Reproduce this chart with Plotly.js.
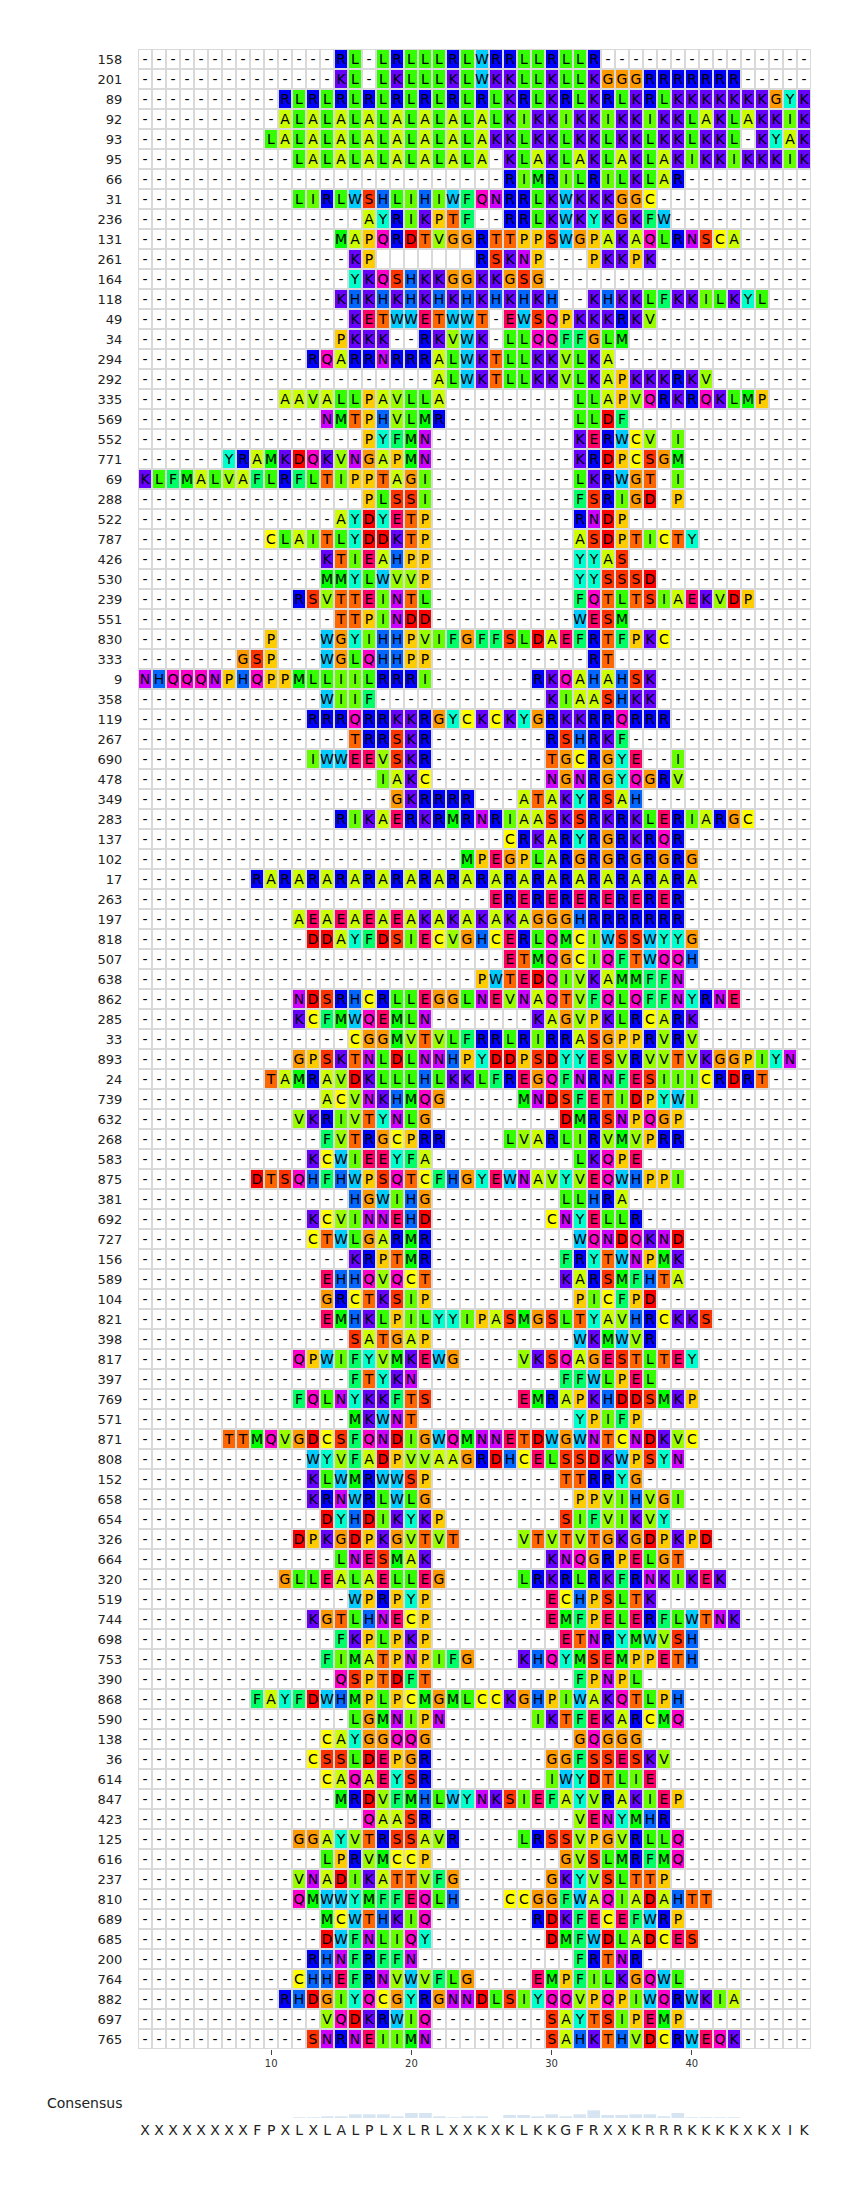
<!DOCTYPE html>
<html>
<head>
<meta charset="utf-8">
<script src="https://cdn.plot.ly/plotly-3.0.1.min.js"></script>
<style>html,body{margin:0;padding:0;background:#fff;}#chart{width:860px;height:2188px;}</style>
</head>
<body>
<div id="chart"></div>
<script>
// ---------------- data ----------------
const rowLabels = ['158','201','89','92','93','95','66','31','236','131',
  '261','164','118','49','34','294','292','335','569','552',
  '771','69','288','522','787','426','530','239','551','830',
  '333','9','358','119','267','690','478','349','283','137',
  '102','17','263','197','818','507','638','862','285','33',
  '893','24','739','632','268','583','875','381','692','727',
  '156','589','104','821','398','817','397','769','571','871',
  '808','152','658','654','326','664','320','519','744','698',
  '753','390','868','590','138','36','614','847','423','125',
  '616','237','810','689','685','200','764','882','697','765'];

const sequences = [
  '--------------RL-LRLLLRLWRRLLRLLR---------------',
  '--------------KL-LKLLLKLWKKLLKLLKGGGRRRRRRR-----',
  '----------RLRLRLRLRLRLRLRLKRLKRLKRLKRLKKKKKKKGYK',
  '----------ALALALALALALALALKIKKIKKIKKIKKLAKLAKKIK',
  '---------LALALALALALALALAKKLKKLKKLKKLKKLKKL-KYAK',
  '-----------LALALALALALALA-KLAKLAKLAKLAKIKKIKKKIK',
  '--------------------------RIMRILRILKLAR---------',
  '-----------LIRLWSHLIHIWFQNRRLKWKKKGGC-----------',
  '----------------AYRIKPTF--RRLKWKYKGKFW----------',
  '--------------MAPQRDTVGGRTTPPSWGPAKAQLRNSCA-----',
  '---------------KP.......RSKNP---PKKPK-----------',
  '---------------YKQSHKKGGKKGSG-------------------',
  '--------------KHKHKHKHKHKHKHKH--KHKKLFKKILKYL---',
  '---------------KETWWETWWT-EWSQPKKKRKV-----------',
  '--------------PKKK--RKVWK-LLQQFFGLM-------------',
  '------------RQARRNRRRALWKTLLKKVLKA--------------',
  '---------------------ALWKTLLKKVLKAPKKKRKV-------',
  '----------AAVALLPAVLLA---------LLAPVQRKRQKLMP---',
  '-------------NMTPHVLMR---------LLDF-------------',
  '----------------PYFMN----------KERWCV-I---------',
  '------YRAMKDQKVNGAPMN----------KRDPCSGM---------',
  'KLFMALVAFLRFLTIPPTAGI----------LKRWGT-I---------',
  '----------------PLSSI----------FSRIGD-P---------',
  '--------------AYDYETP----------RNDP-------------',
  '---------CLAITLYDDKTP----------ASDPTICTY--------',
  '-------------KTIEAHPP----------YYAS-------------',
  '-------------MMYLWVVP----------YYSSSD-----------',
  '-----------RSVTTEINTL----------FQTLTSIAEKVDP----',
  '--------------TTPINDD----------WESM-------------',
  '---------P---WGYIHHPVIFGFFSLDAEFRTFPKC----------',
  '-------GSP---WGLQHHPP-----------RT--------------',
  'NHQQQNPHQPPMLLIILRRRI-------RKQAHAHSK-----------',
  '-------------WIIF------------KIAASHKK-----------',
  '------------RRRQRRKKRGYCKCKYGRKKRRQRRR----------',
  '---------------TRRSKR--------RSHRKF-------------',
  '------------IWWEEVSKR--------TGCRGYE--I---------',
  '-----------------IAKC--------NGNRGYQGRV---------',
  '------------------GKRRRR---ATAKYRSAH------------',
  '--------------RIKAERKRMRNRIAASKSRKRKLERIARGC----',
  '--------------------------CRKARYRGRKRQR---------',
  '-----------------------MPEGPLARGRGRGRGRG--------',
  '--------' + 'RARARARA' + 'RARARARA' + 'RARARARA' + 'RARARARA' + '--------',
  '-------------------------ERERERERERERER---------',
  '-----------AEAEAEAEAKAKAKAKAGGGHRRRRRRR---------',
  '------------DDAYFDSIECVGHCERLQMCIWSSWYYG--------',
  '--------------------------ETMQGCIQFTWQQH--------',
  '------------------------PWTEDQIVKAMMFFN---------',
  '-----------NDSRHCRLLEGGLNEVNAQTVFQLQFFNYRNE-----',
  '-----------KCFMWQEMLN-------KAGVPKLRCARK--------',
  '---------------CGGMVTVLFRRLRIRRASGPPRVRV--------',
  '-----------GPSKTNLDLNNHPYDDPSDYYESVRVVTVKGGPIYN-',
  '---------TAMRAVDKLLLHLKKLFREGQFNRNFESIIICRDRT---',
  '-------------ACVNKHMQG-----MNDSFETIDPYWI--------',
  '-----------VKRIVTYNLG---------DMRSNPQGP---------',
  '-------------FVTRGCPRR----LVARLIRVMVPRR---------',
  '------------KCWIEEYFA----------LKQPE------------',
  '--------DTSQHFHWPSQTCFHGYEWNAVYVEQWHPPI---------',
  '---------------HGWIHG---------LLHRA-------------',
  '------------KCVINNEHD--------CNYELLR------------',
  '------------CTWLGARMR----------WQNDQKND---------',
  '---------------KRPTMR---------FRYTWNPMK---------',
  '-------------EHHQVQCT---------KARSMFHTA---------',
  '-------------GRCTKSIP----------PICFPD-----------',
  '-------------EMHKLPILYYIPASMGSLTYAVHRCKKS-------',
  '---------------SATGAP----------WKMWVR-----------',
  '-----------QPWIFYVMKEWG----VKSQAGESTLTEY--------',
  '---------------FTYKN----------FFWLPEL-----------',
  '-----------FQLNYKKFTS------EMRAPKHDDSMKP--------',
  '---------------MKWNT-----------YPIFP------------',
  '------TTMQVGDCSFQNDIGWQMNNETDWGWNTCNDKVC--------',
  '------------WYVFADPVVAAGRDHCELSSDKWPSYN---------',
  '------------KLWMRWWSP---------TTRRYG------------',
  '------------KRNWRLWLG----------PPVIHVGI---------',
  '-------------DYHDIKYKP--------SIFVIKVY----------',
  '-----------DPKGDPKGVTVT----VTVTVTGKGDPKPD-------',
  '--------------LNESMAK--------KNQGRPELGT---------',
  '----------GLLEALAELLEG-----LRKRLRKFRNKIKEK------',
  '---------------WPRPYP--------ECHPSLTK-----------',
  '------------KGTLHNECP--------EMFPELERFLWTNK-----',
  '--------------FKPLPKP---------ETNRYMWVSH--------',
  '-------------FIMATPNPIFG---KHQYMSEMPPETH--------',
  '--------------QSPTDFT----------FPNPL------------',
  '--------FAYFDWHMPLPCMGMLCCKGHPIWAKQTLPH---------',
  '---------------LGMNIPN------IKTFEKARCMQ---------',
  '-------------CAYGGQQG----------GQGGG------------',
  '------------CSSLDEPGR--------GGFSSESKV----------',
  '-------------CAQAEYSR--------IWYDTLIE-----------',
  '--------------MRDVFMHLWYNKSIEFAYVRAKIEP---------',
  '----------------QAASR----------VENYMHR----------',
  '-----------GGAYVTRSSAVR----LRSSVPGVRLLQ---------',
  '-------------LPRVMCCP---------GVSLMRFMQ---------',
  '-----------VNADIKATTVFG------GKYVSLTTP----------',
  '-----------QMWWYMFFEQLH---CCGGFWAQIADAHTT-------',
  '-------------MCWTHKIQ-------RDKFECEFWRP---------',
  '-------------DWFNLIQY--------DMFWDLADCES--------',
  '------------RHNFRFFN-----------FRTNR------------',
  '-----------CHHEFRNVWVFLG----EMPFILKGQWL---------',
  '----------RHDGIYQCGYRGNNDLSIYQQVPQPIWQRWKIA-----',
  '-------------VQDKRWIQ--------SAYTSIPEMP---------',
  '------------SNRNEIIMN--------SAHKTHVDCRWEQK-----'
];

const consensusSeq = 'XXXXXXXXFPXLXLALPLXLRLXXKXKLKKGFRXXKRRRKKKKXKXIK';

// conservation bar heights above the consensus letters (estimated)
const conservation = [0,0,0,0,0,0,0,0,0,0,0,
  0.7,0.7,1.7,1.7,3.7,3.7,3.7,1.7,5,5,1.7,0.7,1.7,1.7,0,3,3,1.7,3.7,1.7,3.7,7.7,
  3,3,3.7,3.7,1.7,5,0.7,0.7,0.7,0.7,0,0,0,0,0];

const xTickVals = [10, 20, 30, 40];

// Taylor residue colour scheme
const residueColors = {
  A:'#CCFF00', R:'#0000FF', N:'#CC00FF', D:'#FF0000', C:'#FFFF00',
  Q:'#FF00CC', E:'#FF0066', G:'#FF9900', H:'#0066FF', I:'#66FF00',
  L:'#33FF00', K:'#6600FF', M:'#00FF00', F:'#00FF66', P:'#FFCC00',
  S:'#FF3300', T:'#FF6600', W:'#00CCFF', Y:'#00FFCC', V:'#99FF00',
  '-':'#FFFFFF', '.':'#FFFFFF'
};

// ---------------- build ----------------
const NCOL = 48;
const W = 860, H = 2188;
const M = {l:138, r:49, t:49, b:20};
const plotH = H - M.t - M.b;
function py(px){ return (H - M.b - px) / plotH; }
function dom(pxTop, pxBot){ return [Math.max(0,py(pxBot)), Math.min(1,py(pxTop))]; }

const keys = Object.keys(residueColors);
const keyIdx = {}; keys.forEach((k,i)=>keyIdx[k]=i);
const nK = keys.length;
const colorscale = [];
keys.forEach((k,i)=>{ colorscale.push([i/nK, residueColors[k]]); colorscale.push([(i+1)/nK, residueColors[k]]); });

const cols = []; for (let c=1;c<=NCOL;c++) cols.push(c);
const rows = rowLabels.map((_,i)=>i);
const z = [], txt = [];
sequences.forEach(s=>{
  const zr=[], tr=[];
  for (let c=0;c<NCOL;c++){
    const ch = s[c] || '-';
    zr.push(keyIdx[ch] !== undefined ? keyIdx[ch] : keyIdx['-']);
    tr.push(ch === '.' ? '' : ch);
  }
  z.push(zr); txt.push(tr);
});

const FONT = 'DejaVu Sans';

const heat = {
  type:'heatmap', x: cols, y: rows, z: z, text: txt,
  texttemplate:'%{text}', textfont:{family:FONT, size:14, color:'#000'},
  colorscale: colorscale, zmin:-0.5, zmax:nK-0.5, showscale:false,
  xgap:2, ygap:2, hoverinfo:'skip', xaxis:'x', yaxis:'y'
};

const bars = {
  type:'bar', x: cols, y: conservation, xaxis:'x', yaxis:'y2',
  marker:{color:'#d7e5f2', line:{width:0}}, width:0.9, hoverinfo:'skip'
};

const cons = {
  type:'scatter', mode:'text', x: cols, y: cols.map(()=>0),
  text: consensusSeq.split(''), textposition:'middle center',
  textfont:{family:FONT, size:14, color:'#222'}, xaxis:'x', yaxis:'y3', hoverinfo:'skip'
};

const layout = {
  width: W, height: H, margin: M,
  paper_bgcolor:'#fff', plot_bgcolor:'rgba(0,0,0,0)',
  font:{family:FONT, color:'#333', size:12},
  showlegend:false,
  xaxis:{domain:[0,1], range:[0.5, NCOL+0.5], anchor:'y', tickmode:'array', tickvals:xTickVals,
    ticks:'outside', ticklen:5, tickcolor:'#444', tickfont:{size:10, color:'#333'},
    showgrid:false, zeroline:false, showline:false, fixedrange:true},
  yaxis:{domain:dom(49, 2049), range:[rows.length-0.5, -0.5], tickmode:'array', tickvals:rows, ticktext:rowLabels,
    ticks:'outside', ticklen:12, tickcolor:'rgba(0,0,0,0)', tickfont:{size:13, color:'#222'},
    showgrid:false, zeroline:false, showline:false, fixedrange:true},
  yaxis2:{domain:dom(2098, 2118), range:[0, 20], anchor:'x', showticklabels:false, ticks:'',
    showgrid:false, zeroline:false, showline:false, fixedrange:true},
  yaxis3:{domain:dom(2121, 2141), range:[-1, 1], anchor:'x', showticklabels:false, ticks:'',
    showgrid:false, zeroline:false, showline:false, fixedrange:true},
  shapes:[{type:'rect', xref:'x', yref:'y', x0:0.5, x1:NCOL+0.5, y0:-0.5, y1:rows.length-0.5,
    fillcolor:'#d9d9d9', line:{width:0}, layer:'below'}],
  annotations:[{text:'Consensus', xref:'paper', yref:'paper', x:0, xshift:-14, xanchor:'right',
    y:py(2103), yanchor:'middle', showarrow:false, font:{size:14, color:'#222'}}]
};

Plotly.newPlot('chart', [heat, bars, cons], layout, {displayModeBar:false, staticPlot:true});
</script>
</body>
</html>
